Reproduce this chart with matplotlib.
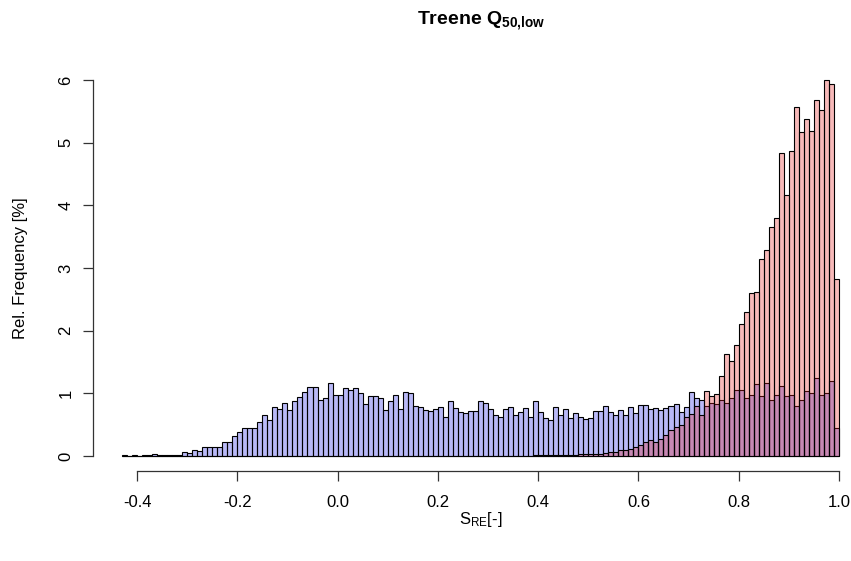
import numpy as np
import matplotlib
matplotlib.use("Agg")
import matplotlib.pyplot as plt

plt.rcParams['font.family'] = ['Liberation Sans', 'DejaVu Sans']
plt.rcParams['mathtext.fontset'] = 'custom'
plt.rcParams['mathtext.rm'] = 'Liberation Sans'
plt.rcParams['mathtext.it'] = 'Liberation Sans:italic'
plt.rcParams['mathtext.bf'] = 'Liberation Sans:bold'

# histogram breaks: -0.43 .. 1.00, width 0.01
edges = np.round(np.arange(-0.43, 1.0001, 0.01), 2)

# relative frequency [%] per bin
blue = [0.01, 0.0, 0.01, 0.0, 0.01, 0.01, 0.03, 0.01, 0.02, 0.02, 0.01, 0.02,
        0.07, 0.05, 0.10, 0.08, 0.15, 0.15, 0.15, 0.15, 0.22, 0.23, 0.32, 0.39,
        0.45, 0.44, 0.44, 0.54, 0.65, 0.58, 0.78, 0.75, 0.85, 0.73, 0.87, 0.94,
        1.02, 1.10, 1.10, 0.90, 0.92, 1.17, 0.98, 0.98, 1.09, 1.06, 1.09, 1.01,
        0.83, 0.96, 0.95, 0.92, 0.73, 0.88, 0.97, 0.75, 1.02, 1.01, 0.80, 0.79,
        0.74, 0.72, 0.75, 0.79, 0.63, 0.87, 0.76, 0.71, 0.68, 0.72, 0.72, 0.87,
        0.85, 0.75, 0.66, 0.63, 0.75, 0.78, 0.65, 0.70, 0.76, 0.63, 0.88, 0.70,
        0.60, 0.57, 0.78, 0.65, 0.75, 0.60, 0.68, 0.63, 0.59, 0.60, 0.72, 0.72,
        0.80, 0.70, 0.66, 0.74, 0.65, 0.79, 0.68, 0.82, 0.81, 0.75, 0.77, 0.73,
        0.76, 0.80, 0.83, 0.70, 0.78, 1.02, 0.92, 0.89, 0.80, 0.84, 0.83, 0.90,
        0.84, 0.92, 1.05, 1.05, 0.92, 0.97, 1.15, 0.95, 1.16, 0.89, 0.97, 1.12,
        0.95, 0.97, 0.80, 0.89, 1.03, 1.01, 1.24, 0.97, 1.01, 1.19, 0.44]

red = [0.0] * 80 + [
        0.0, 0.005, 0.01, 0.01, 0.01, 0.01, 0.02, 0.01, 0.02, 0.02, 0.02, 0.03,
        0.03, 0.03, 0.04, 0.04, 0.05, 0.07, 0.06, 0.10, 0.09, 0.12, 0.15, 0.18,
        0.23, 0.26, 0.23, 0.27, 0.33, 0.42, 0.46, 0.50, 0.62, 0.67, 0.80, 0.65,
        1.04, 0.95, 0.99, 1.27, 1.62, 1.52, 1.77, 2.11, 2.30, 2.60, 2.62, 3.14,
        3.29, 3.66, 3.80, 4.83, 4.16, 4.87, 5.57, 5.17, 5.37, 5.19, 5.68, 5.52,
        6.00, 5.93, 2.82]

xticks = [-0.4, -0.2, 0.0, 0.2, 0.4, 0.6, 0.8, 1.0]
yticks = [0, 1, 2, 3, 4, 5, 6]

fig = plt.figure(figsize=(8.51, 5.61), dpi=100)
ax = fig.add_axes([93/851, 90/561, 776/851, 406/561])

ax.bar(edges[:-1], blue, width=0.01, align='edge', color=(0.1, 0.1, 0.9, 0.3),
       edgecolor='black', linewidth=0.8)
ax.bar(edges[:-1], red, width=0.01, align='edge', color=(0.9, 0.1, 0.1, 0.3),
       edgecolor='black', linewidth=0.8)

ax.set_xlim(-0.4878, 1.0599)
ax.set_ylim(-0.239, 6.239)

for s in ['top', 'right']:
    ax.spines[s].set_visible(False)
ax.spines['left'].set_bounds(0, 6)
ax.spines['bottom'].set_bounds(-0.4, 1.0)
for s in ['left', 'bottom']:
    ax.spines[s].set_color('#333333')
    ax.spines[s].set_linewidth(0.9)

ax.set_xticks(xticks)
ax.set_xticklabels([f"{t:.1f}" for t in xticks])
ax.set_yticks(yticks)
ax.set_yticklabels([str(t) for t in yticks], rotation=90, va='center')
ax.tick_params(axis='both', direction='out', length=7, width=0.9,
               color='#333333', labelsize=12)
ax.tick_params(axis='x', pad=10)
ax.tick_params(axis='y', pad=7)

ax.set_xlabel(r"S$_{\mathregular{RE}}$[-]", fontsize=12, labelpad=0)
ax.set_ylabel("Rel. Frequency [%]", fontsize=12, labelpad=22)

fig.text(481/851, 1 - 21/561, r"Treene Q$_{\mathbf{50{,}low}}$", ha='center', va='center',
         fontsize=14, fontweight='bold')

fig.savefig("out.png", dpi=100)
